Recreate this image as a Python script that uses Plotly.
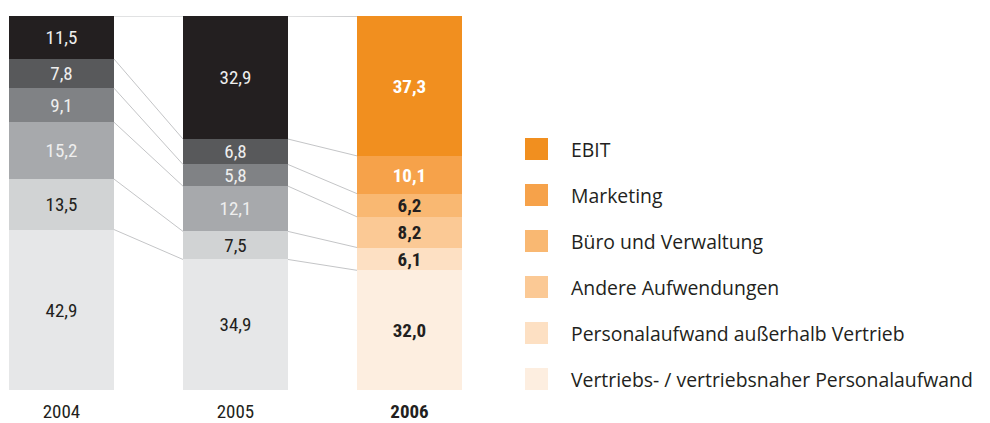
import plotly.graph_objects as go

# ---------------- data ----------------
years = ["2004", "2005", "2006"]
year_labels = ["2004", "2005", "<b>2006</b>"]

series_names = [
    "Vertriebs- / vertriebsnaher Personalaufwand",
    "Personalaufwand außerhalb Vertrieb",
    "Andere Aufwendungen",
    "Büro und Verwaltung",
    "Marketing",
    "EBIT",
]
v_vertrieb = [42.9, 34.9, 32.0]
v_personal = [13.5, 7.5, 6.1]
v_andere = [15.2, 12.1, 8.2]
v_buero = [9.1, 5.8, 6.2]
v_marketing = [7.8, 6.8, 10.1]
v_ebit = [11.5, 32.9, 37.3]
series_values = [v_vertrieb, v_personal, v_andere, v_buero, v_marketing, v_ebit]

# ---------------- styles ----------------
grays = ["#e6e7e8", "#d1d3d4", "#a7a9ac", "#808285", "#58595b", "#231f20"]
oranges = ["#fdeee0", "#fde0c3", "#fbc995", "#f9b872", "#f6a24a", "#f18f1f"]
DARK = "#231f20"
LIGHT = "#eeeeee"
gray_text = [DARK, DARK, LIGHT, LIGHT, LIGHT, LIGHT]
orange_text = [DARK, DARK, DARK, DARK, "#ffffff", "#ffffff"]

FONT = "Liberation Sans Narrow, Roboto Condensed, Arial Narrow, DejaVu Sans Condensed, sans-serif"
LEG_FONT = "Open Sans, Roboto, sans-serif"
BAR_W = 0.6034
xpos = list(range(len(years)))

fig = go.Figure()

# connector lines between segment boundaries
cums = []
for j in range(len(years)):
    c, acc = [], 0.0
    for s in series_values:
        acc += s[j]
        c.append(acc)
    cums.append(c)
lx, ly = [], []
for j in range(len(years) - 1):
    for k in range(len(series_values)):
        lx += [xpos[j] + BAR_W / 2, xpos[j + 1] - BAR_W / 2, None]
        ly += [cums[j][k], cums[j + 1][k], None]
fig.add_trace(go.Scatter(x=lx, y=ly, mode="lines", line=dict(color="#c4c5c7", width=1),
                         hoverinfo="skip", showlegend=False))

for i, (name, vals) in enumerate(zip(series_names, series_values)):
    colors = [grays[i], grays[i], oranges[i]]
    tcolors = [gray_text[i], gray_text[i], orange_text[i]]
    texts = [f"{v:.1f}".replace(".", ",") for v in vals]
    texts[2] = f"<b>{texts[2]}</b>"
    fig.add_trace(go.Bar(
        x=xpos, y=vals, name=name, width=BAR_W,
        marker=dict(color=colors, line=dict(width=0)),
        text=texts, textposition="inside", insidetextanchor="middle",
        textangle=0, constraintext="none",
        textfont=dict(family=FONT, size=19, color=tcolors),
        showlegend=False, hoverinfo="skip",
    ))

# page body has an 8px margin; figure sized so page does not overflow the window
OFF = 8
L, R, T, B = 1, 528, 8, 33
W, H = 982, 415
pw, ph = W - L - R, H - T - B
def px2x(p): return (p - OFF - L) / pw
def px2y(p): return (H - B - (p - OFF)) / ph

leg_top = 138
leg_step = 46
for n, idx in enumerate(reversed(range(len(series_names)))):
    y0 = leg_top + n * leg_step
    fig.add_shape(type="rect", xref="paper", yref="paper",
                  x0=px2x(525), x1=px2x(548), y0=px2y(y0 + 22), y1=px2y(y0),
                  fillcolor=oranges[idx], line=dict(width=0))
    fig.add_annotation(xref="paper", yref="paper", x=px2x(569), y=px2y(y0 + 11),
                       xanchor="left", yanchor="middle", showarrow=False,
                       text=series_names[idx], font=dict(family=LEG_FONT, size=19.4, color=DARK))

fig.update_layout(
    width=W, height=H, margin=dict(l=L, r=R, t=T, b=B),
    barmode="stack", bargap=0,
    paper_bgcolor="white", plot_bgcolor="white",
    separators=",.",
    xaxis=dict(range=[-BAR_W / 2, xpos[-1] + BAR_W / 2], tickvals=xpos, ticktext=year_labels,
               showgrid=False, zeroline=False, showline=False, ticks="", ticklabelstandoff=8,
               tickfont=dict(family=FONT, size=19, color=DARK), fixedrange=True),
    yaxis=dict(range=[0, 100], visible=False, fixedrange=True),
    showlegend=False,
)

fig.write_html("out.html")
